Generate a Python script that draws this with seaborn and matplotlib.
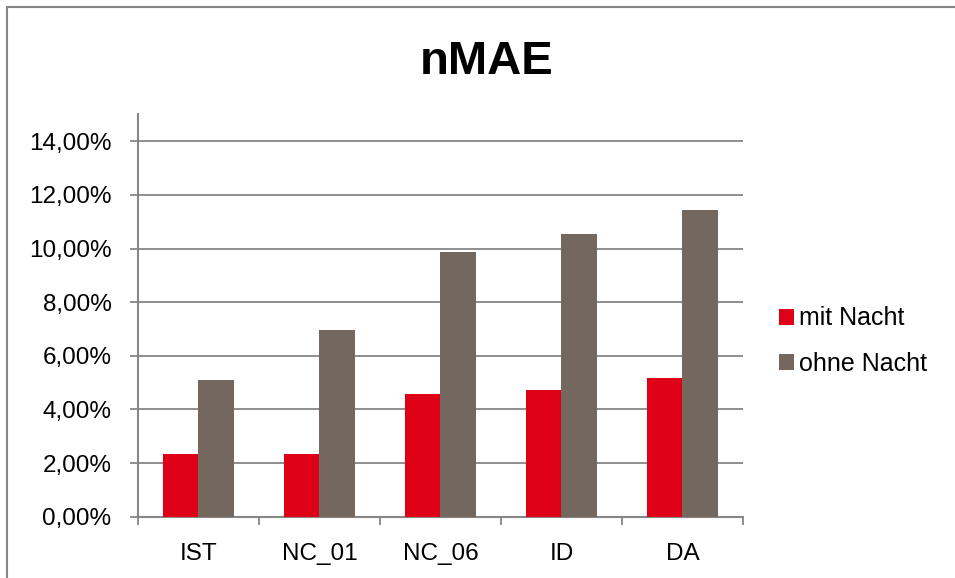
import numpy as np
import pandas as pd
import matplotlib
matplotlib.use("Agg")
import matplotlib.pyplot as plt
import seaborn as sns
from matplotlib.patches import Rectangle
from matplotlib.ticker import FixedLocator, FuncFormatter

# Chart data
categories = ["IST", "NC_01", "NC_06", "ID", "DA"]
series_names = ["mit Nacht", "ohne Nacht"]
mit_nacht = [0.0233, 0.0233, 0.0457, 0.0472, 0.0516]
ohne_nacht = [0.0509, 0.0696, 0.0987, 0.1054, 0.1143]
y_ticks = [0.0, 0.02, 0.04, 0.06, 0.08, 0.10, 0.12, 0.14]

colors = ["#DE0016", "#74675E"]
grid_col = "#868686"


def pct_comma(v, _pos=None):
    return f"{v * 100:.2f}%".replace(".", ",")


def main():
    df = pd.DataFrame({
        "category": categories * 2,
        "value": mit_nacht + ohne_nacht,
        "series": [series_names[0]] * len(categories) + [series_names[1]] * len(categories),
    })

    sns.set_theme(style="white")
    plt.rcParams["font.family"] = ["Liberation Sans", "DejaVu Sans"]
    plt.rcParams["text.color"] = "black"

    fig = plt.figure(figsize=(9.55, 5.78), dpi=100)
    ax = fig.add_axes([0.1445, 0.106, 0.6335, 0.696])

    sns.barplot(data=df, x="category", y="value", hue="series", order=categories,
                hue_order=series_names, palette=colors, width=0.58, saturation=1,
                linewidth=0, ax=ax, legend=True, zorder=3)

    ax.set_xlim(-0.5, len(categories) - 0.5)
    ax.set_ylim(0, 0.15)
    ax.yaxis.set_major_locator(FixedLocator(y_ticks))
    ax.yaxis.set_major_formatter(FuncFormatter(pct_comma))
    ax.grid(axis="y", color=grid_col, linewidth=1.3, zorder=0)
    ax.set_axisbelow(True)
    ax.set_xlabel("")
    ax.set_ylabel("")

    for side in ["top", "right"]:
        ax.spines[side].set_visible(False)
    for side in ["left", "bottom"]:
        ax.spines[side].set_color(grid_col)
        ax.spines[side].set_linewidth(1.5)

    ax.tick_params(axis="y", which="major", direction="out", length=6, width=1.3,
                   color=grid_col, pad=13, labelsize=17.5, labelcolor="black", left=True)
    ax.tick_params(axis="x", which="major", length=0, pad=19, labelsize=17.5, labelcolor="black")
    ax.xaxis.set_minor_locator(FixedLocator(np.arange(-0.5, len(categories), 1.0)))
    ax.tick_params(axis="x", which="minor", direction="out", length=6, width=1.3,
                   color=grid_col, bottom=True)

    fig.suptitle("nMAE", x=0.51, y=0.893, fontsize=34, fontweight="bold",
                 va="center", color="black")

    handles, labels = ax.get_legend_handles_labels()
    leg = ax.legend(handles, labels, loc="center left", bbox_to_anchor=(0.816, 0.41),
                    bbox_transform=fig.transFigure, frameon=False, fontsize=18,
                    handlelength=0.6, handleheight=0.6, handletextpad=0.2, labelspacing=0.85,
                    borderpad=0, borderaxespad=0)
    for t in leg.get_texts():
        t.set_color("black")

    # outer chart border (right and bottom edges fall outside the image)
    fig.patches.append(Rectangle((7 / 955, -0.05), 1.1, 1.05 - 7 / 578,
                                 transform=fig.transFigure, fill=False,
                                 edgecolor=grid_col, linewidth=1.5))

    fig.savefig("out.png", dpi=100)
    plt.close(fig)


if __name__ == "__main__":
    main()
